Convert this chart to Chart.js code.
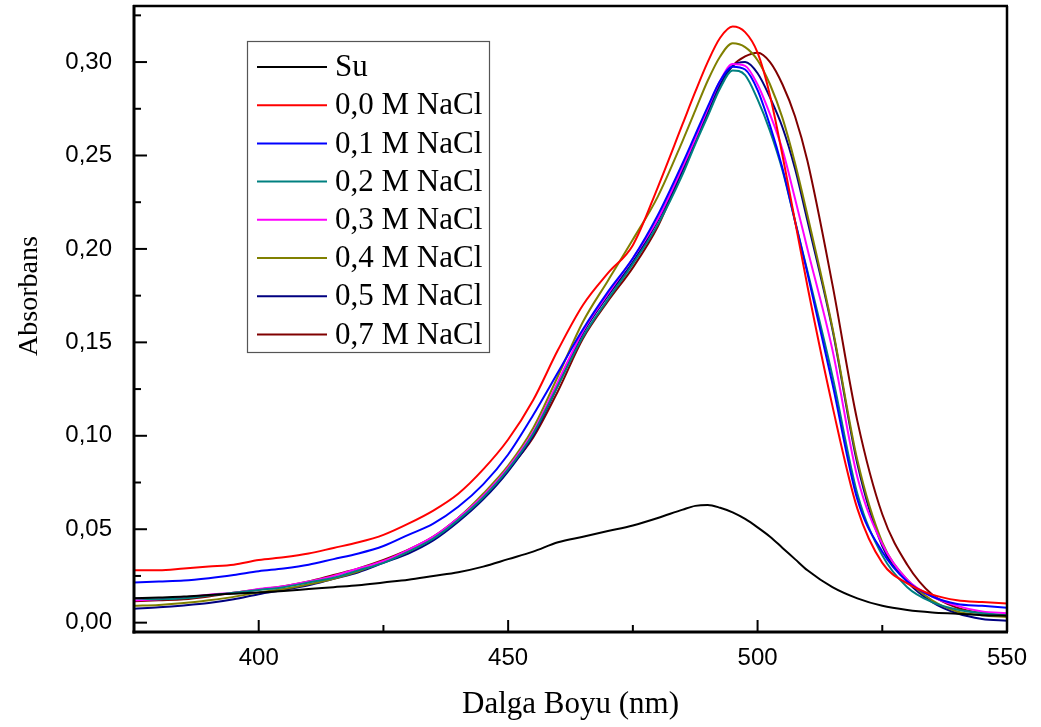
<!DOCTYPE html>
<html lang="tr">
<head>
  <meta charset="UTF-8" />
  <title>Absorbans</title>
  <script src="https://cdn.jsdelivr.net/npm/chart.js"></script>
  <style>
    html, body { margin: 0; padding: 0; background: #fff; }
    #wrap { width: 1041px; height: 727px; }
  </style>
</head>
<body>
  <div id="wrap"><canvas id="grafik" width="1041" height="727"></canvas></div>

  <script>
    // Dalga boyu (nm)
    const wavelength = [375, 380, 385, 390, 395, 400, 405, 410, 415, 420, 425, 430, 435, 440, 445, 450, 455, 460, 465, 470, 475, 480, 485,
      487.5, 490, 492.5, 495, 497.5, 500, 502.5, 505, 507.5, 510,
      515, 520, 525, 530, 535, 540, 545, 550];

    const su = [.013, .0135, .014, .0148, .0155, .0162, .017, .018, .019, .020, .0215, .023, .025, .027, .030, .034, .038, .043, .046, .049, .052, .056, .0605,
      .0625, .063, .0615, .059, .0555, .051, .046, .040, .034, .028,
      .019, .013, .009, .0068, .0055, .0048, .004, .0037];
    const nacl00 = [.028, .028, .029, .030, .031, .0335, .035, .037, .040, .043, .047, .053, .060, .069, .082, .098, .119, .146, .170, .187, .202, .233, .267,
      .284, .300, .313, .319, .316, .305, .282, .250, .215, .180,
      .116, .061, .032, .021, .015, .012, .011, .0102];
    const nacl01 = [.0215, .022, .0225, .0238, .0255, .0275, .029, .031, .034, .037, .041, .047, .053, .062, .074, .090, .111, .134, .157, .177, .195, .218, .246,
      .261, .276, .290, .2975, .296, .285, .266, .243, .215, .187,
      .128, .066, .038, .022, .014, .010, .009, .008];
    const nacl02 = [.013, .0125, .013, .0145, .016, .0175, .019, .0215, .024, .028, .032, .038, .045, .055, .067, .082, .101, .127, .153, .173, .192, .213, .240,
      .256, .271, .286, .2955, .293, .280, .263, .242, .215, .188,
      .132, .069, .036, .019, .011, .007, .005, .004];
    const nacl03 = [.012, .0125, .0135, .015, .016, .018, .0195, .022, .025, .029, .033, .039, .046, .056, .068, .083, .102, .129, .156, .176, .195, .216, .244,
      .259, .275, .290, .299, .298, .288, .272, .253, .227, .200,
      .146, .078, .042, .023, .014, .009, .006, .005];
    const nacl04 = [.009, .0095, .0105, .012, .0138, .0162, .018, .0205, .0235, .0275, .0325, .038, .0455, .056, .069, .084, .104, .132, .161, .183, .205, .228, .258,
      .274, .290, .303, .310, .308, .301, .288, .270, .246, .218,
      .158, .087, .043, .023, .012, .006, .004, .003];
    const nacl05 = [.0075, .0082, .0092, .0105, .0125, .0152, .0175, .020, .0235, .027, .032, .037, .044, .054, .066, .081, .100, .127, .155, .175, .193, .215, .242,
      .257, .273, .288, .298, .300, .294, .281, .265, .243, .215,
      .157, .085, .041, .022, .011, .005, .002, .001];
    const nacl07 = [.0115, .012, .0125, .014, .016, .0178, .0195, .022, .0255, .029, .0335, .039, .046, .056, .068, .082, .099, .124, .152, .172, .190, .212, .243,
      .259, .274, .288, .298, .303, .305, .300, .288, .271, .247,
      .181, .108, .058, .031, .015, .008, .005, .0035];

    const seriesNames = ['Su', '0,0 M NaCl', '0,1 M NaCl', '0,2 M NaCl', '0,3 M NaCl', '0,4 M NaCl', '0,5 M NaCl', '0,7 M NaCl'];
    const seriesColors = ['#000000', '#ff0000', '#0000ff', '#008080', '#ff00ff', '#808000', '#000080', '#800000'];
    const seriesValues = [su, nacl00, nacl01, nacl02, nacl03, nacl04, nacl05, nacl07];

    const xTicks = [400, 450, 500, 550];
    const xMinorTicks = [375, 425, 475, 525];
    const yTicks = [0, 0.05, 0.10, 0.15, 0.20, 0.25, 0.30];
    const yMinorTicks = [0.025, 0.075, 0.125, 0.175, 0.225, 0.275, 0.325];

    const serif = '"Liberation Serif", "Times New Roman", serif';

    // cerceve + iceri bakan tikler + y ekseni basligi
    const cerceve = {
      id: 'cerceve',
      afterDraw(chart) {
        const { ctx, chartArea: a, scales: { x, y } } = chart;
        ctx.save();
        ctx.strokeStyle = '#000';
        ctx.lineCap = 'butt';
        const seg = (x1, y1, x2, y2, w) => {
          ctx.lineWidth = w;
          ctx.beginPath(); ctx.moveTo(x1, y1); ctx.lineTo(x2, y2); ctx.stroke();
        };
        xTicks.forEach(v => { const p = x.getPixelForValue(v); seg(p, a.bottom, p, a.bottom - 12, 2); });
        xMinorTicks.forEach(v => { const p = x.getPixelForValue(v); seg(p, a.bottom, p, a.bottom - 7, 2); });
        yTicks.forEach(v => { const p = y.getPixelForValue(v); seg(a.left, p, a.left + 13, p, 2); });
        yMinorTicks.forEach(v => { const p = y.getPixelForValue(v); seg(a.left, p, a.left + 7, p, 2); });
        seg(a.left - 1, a.top, a.right + 1, a.top, 2.5);
        seg(a.right, a.top, a.right, a.bottom, 2.5);
        seg(a.left, a.top - 1, a.left, a.bottom + 1.5, 3);
        seg(a.left - 1.5, a.bottom, a.right + 1, a.bottom, 3);

        // Origin basligi biraz yukarida duruyor
        ctx.translate(30, 296);
        ctx.rotate(-Math.PI / 2);
        ctx.font = '28px ' + serif;
        ctx.fillStyle = '#000';
        ctx.textAlign = 'center';
        ctx.textBaseline = 'middle';
        ctx.fillText('Absorbans', 0, 0);
        ctx.restore();
      }
    };

    // lejant kutusu
    const lejant = {
      id: 'lejant',
      afterDraw(chart) {
        const ctx = chart.ctx;
        ctx.save();
        ctx.strokeStyle = '#555';
        ctx.lineWidth = 1.2;
        ctx.strokeRect(247.5, 41.5, 242, 311);
        ctx.font = '31px ' + serif;
        ctx.textBaseline = 'middle';
        ctx.fillStyle = '#000';
        chart.data.datasets.forEach((ds, i) => {
          const yy = 67 + i * 38.2;
          ctx.strokeStyle = ds.borderColor;
          ctx.lineWidth = 2;
          ctx.beginPath(); ctx.moveTo(257, yy); ctx.lineTo(327, yy); ctx.stroke();
          ctx.fillText(ds.label, 335, yy + 1);
        });
        ctx.restore();
      }
    };

    new Chart(document.getElementById('grafik'), {
      type: 'line',
      data: {
        datasets: seriesValues.map((vals, i) => ({
          label: seriesNames[i],
          data: wavelength.map((w, j) => ({ x: w, y: vals[j] })),
          borderColor: seriesColors[i],
          borderWidth: 2,
          pointRadius: 0,
          fill: false,
          cubicInterpolationMode: 'monotone'
        }))
      },
      options: {
        responsive: false,
        animation: false,
        layout: { padding: { top: 6, right: 34, left: 0, bottom: 0 } },
        plugins: { legend: { display: false }, tooltip: { enabled: false } },
        scales: {
          x: {
            type: 'linear',
            min: 375,
            max: 550,
            grid: { display: false },
            border: { display: false },
            afterFit: s => { s.height = 95; s.paddingLeft = 0; s.paddingRight = 0; },
            afterBuildTicks: s => { s.ticks = xTicks.map(v => ({ value: v })); },
            ticks: {
              color: '#000',
              padding: 4,
              maxRotation: 0,
              font: { family: '"Liberation Sans", Arial, sans-serif', size: 24 }
            },
            title: {
              display: true,
              text: 'Dalga Boyu (nm)',
              color: '#000',
              padding: { bottom: 4 },
              font: { family: serif, size: 31 }
            }
          },
          y: {
            min: -0.005,
            max: 0.33,
            grid: { display: false },
            border: { display: false },
            afterFit: s => { s.width = 134; s.paddingTop = 0; s.paddingBottom = 0; },
            afterBuildTicks: s => { s.ticks = yTicks.map(v => ({ value: v })); },
            ticks: {
              color: '#000',
              padding: 14,
              font: { family: '"Liberation Sans", Arial, sans-serif', size: 24 },
              callback: v => v.toFixed(2).replace('.', ',')
            }
          }
        }
      },
      plugins: [cerceve, lejant]
    });
  </script>
</body>
</html>
